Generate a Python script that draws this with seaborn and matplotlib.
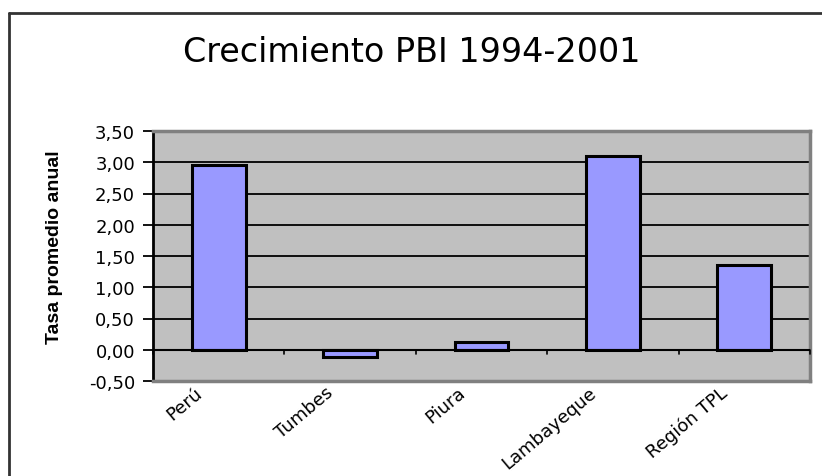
import matplotlib
matplotlib.use("Agg")
import matplotlib.pyplot as plt
import matplotlib.transforms as mtransforms
import seaborn as sns
import pandas as pd
from matplotlib.lines import Line2D

categories = ["Perú", "Tumbes", "Piura", "Lambayeque", "Región TPL"]
values = [2.95, -0.12, 0.12, 3.10, 1.35]
yticks = [-0.5, 0.0, 0.5, 1.0, 1.5, 2.0, 2.5, 3.0, 3.5]
ytick_labels = ["-0,50", "0,00", "0,50", "1,00", "1,50", "2,00", "2,50", "3,00", "3,50"]

sns.set_style("white")
plt.rcParams['font.family'] = ['DejaVu Sans']
plt.rcParams['text.color'] = 'black'
plt.rcParams['axes.labelcolor'] = 'black'
plt.rcParams['xtick.color'] = 'black'
plt.rcParams['ytick.color'] = 'black'

df = pd.DataFrame({"cat": categories, "val": values})

fig = plt.figure(figsize=(8.22, 4.77), dpi=100)
ax = fig.add_axes([153/822, 1-382/477, (810-153)/822, (382-132)/477])
ax.set_facecolor("#C0C0C0")

sns.barplot(data=df, x="cat", y="val", ax=ax, color="#9999FF", width=0.41,
            edgecolor="black", linewidth=2.2, saturation=1, zorder=3)

ax.set_ylim(-0.5, 3.5)
ax.set_xlim(-0.5, len(categories) - 0.5)
ax.set_yticks(yticks)
ax.set_yticklabels(ytick_labels, fontsize=13)
for y in yticks[1:-1]:
    ax.axhline(y, color="black", linewidth=1.3, zorder=1)
ax.axhline(0, color="black", linewidth=1.5, zorder=4)
for i in range(len(categories) + 1):
    ax.plot([i - 0.5, i - 0.5], [0, -0.07], color="black", linewidth=1.2, zorder=4, clip_on=False)

# category labels: rotated, placed just below the plot area
ax.set_xticks(range(len(categories)))
ax.set_xticklabels([])
ax.tick_params(axis="x", length=0)
blend = mtransforms.blended_transform_factory(ax.transData, ax.transAxes)
offset = mtransforms.ScaledTranslation(-19/100, -9/100, fig.dpi_scale_trans)
for i, cat in enumerate(categories):
    ax.text(i, 0, cat, transform=blend + offset, rotation=40, ha="right", va="center",
            rotation_mode="anchor", fontsize=13, color="black", clip_on=False)

ax.tick_params(axis="y", length=7, width=1.3, color="black", left=True, pad=6)
ax.set_xlabel("")
ax.set_ylabel("Tasa promedio anual", fontsize=14, fontweight="bold",
              family=["Liberation Sans"])
ax.yaxis.set_label_coords(-0.137, 0.54)

for s in ["top", "right", "bottom"]:
    ax.spines[s].set_color("#808080")
    ax.spines[s].set_linewidth(2.5)
ax.spines["left"].set_color("black")
ax.spines["left"].set_linewidth(2)

fig.text(412/822, 1-53/477, "Crecimiento PBI 1994-2001", ha="center", va="center",
         fontsize=24, color="black")

fig.add_artist(Line2D([9/822, 1], [1-14/477, 1-14/477], color="#333333", linewidth=2, transform=fig.transFigure))
fig.add_artist(Line2D([9/822, 9/822], [0, 1-14/477], color="#333333", linewidth=2, transform=fig.transFigure))

fig.savefig("out.png", dpi=100)
